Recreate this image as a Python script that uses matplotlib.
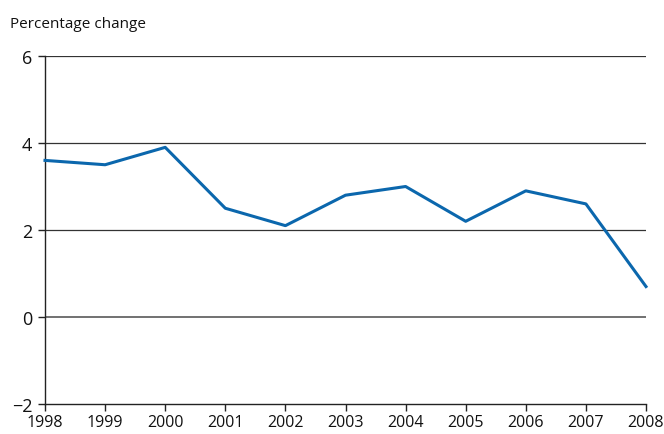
import matplotlib
matplotlib.use('Agg')
import matplotlib.pyplot as plt

years = [1998, 1999, 2000, 2001, 2002, 2003, 2004, 2005, 2006, 2007, 2008]
pct_change = [3.6, 3.5, 3.9, 2.5, 2.1, 2.8, 3.0, 2.2, 2.9, 2.6, 0.7]
y_ticks = [-2, 0, 2, 4, 6]
y_labels = ['\u22122', '0', '2', '4', '6']

plt.rcParams['font.family'] = ['Open Sans', 'DejaVu Sans']

fig = plt.figure(figsize=(6.64, 4.35), dpi=100)
ax = fig.add_axes([45 / 664, 1 - 405 / 435, (646 - 45) / 664, (405 - 57) / 435])

for v in [2, 4, 6]:
    ax.axhline(v, color='#333333', lw=0.9, zorder=1)
ax.axhline(0, color='#666666', lw=1.3, zorder=1)

ax.plot(years, pct_change, color='#0b67ad', lw=2.2, zorder=3, clip_on=False)

ax.set_xlim(1998, 2008)
ax.set_ylim(-2, 6)
ax.set_xticks(years)
ax.set_xticklabels([str(y) for y in years], fontsize=11.5)
ax.set_yticks(y_ticks)
ax.set_yticklabels(y_labels, fontsize=13)

for s in ['top', 'right']:
    ax.spines[s].set_visible(False)
for s in ['left', 'bottom']:
    ax.spines[s].set_color('#222222')
    ax.spines[s].set_linewidth(1.0)
ax.tick_params(axis='both', direction='out', length=5, width=1.0, color='#222222', labelcolor='#111111')
ax.tick_params(axis='x', pad=2)
ax.tick_params(axis='y', pad=4)

fig.text(10 / 664, 1 - 24 / 435, 'Percentage change', fontsize=11, color='#111111', va='center', ha='left')

fig.savefig('out.png', dpi=100)
